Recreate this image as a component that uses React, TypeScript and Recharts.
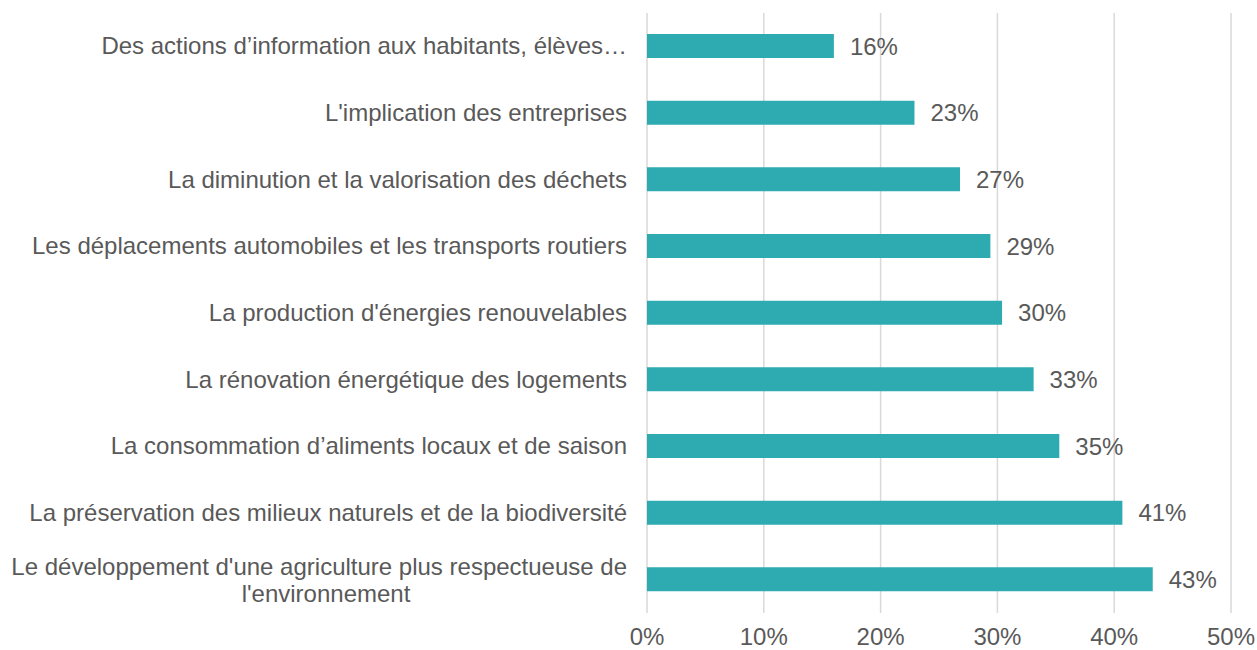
import React from 'react';
import { BarChart, Bar, XAxis, YAxis, CartesianGrid, LabelList } from 'recharts';

const categories = [
  'Des actions d\u2019information aux habitants, élèves…',
  "L'implication des entreprises",
  'La diminution et la valorisation des déchets',
  'Les déplacements automobiles et les transports routiers',
  "La production d'énergies renouvelables",
  'La rénovation énergétique des logements',
  'La consommation d\u2019aliments locaux et de saison',
  'La préservation des milieux naturels et de la biodiversité',
  "Le développement d'une agriculture plus respectueuse de\nl'environnement",
];

const values = [16.0, 22.9, 26.8, 29.4, 30.4, 33.1, 35.3, 40.7, 43.3];

const xTicks = [0, 10, 20, 30, 40, 50];

const data = categories.map((name, i) => ({ name, value: values[i] }));

const textColor = '#595959';
const font = 'Arial, "Liberation Sans", sans-serif';
const fs = 24;

const CategoryTick = (props: any) => {
  const { x, y, payload } = props;
  const lines = String(payload.value).split('\n');
  if (lines.length === 1) {
    return (
      <text x={x} y={y} dy={8} textAnchor="end" fill={textColor} fontSize={fs} fontFamily={font}>
        {lines[0]}
      </text>
    );
  }
  // wrapped label: centred second line under a right-aligned first line
  return (
    <g>
      <text x={x} y={y} dy={-5} textAnchor="end" fill={textColor} fontSize={fs} fontFamily={font}>
        {lines[0]}
      </text>
      <text x={x - 301} y={y} dy={22} textAnchor="middle" fill={textColor} fontSize={fs} fontFamily={font}>
        {lines[1]}
      </text>
    </g>
  );
};

export default function App() {
  return (
    <div style={{ position: 'absolute', left: 0, top: 0, background: '#fff' }}>
      <BarChart
        width={1257}
        height={650}
        data={data}
        layout="vertical"
        margin={{ top: 13, right: 26, bottom: 0, left: 0 }}
        barCategoryGap={0}
      >
        <CartesianGrid horizontal={false} stroke="#d9d9d9" strokeWidth={1.5} />
        <XAxis
          type="number"
          domain={[0, 50]}
          ticks={xTicks}
          tickFormatter={(v: number) => `${v}%`}
          axisLine={false}
          tickLine={false}
          height={37}
          tick={{ fill: textColor, fontSize: fs, fontFamily: font, dy: 7 }}
        />
        <YAxis
          type="category"
          dataKey="name"
          width={647}
          axisLine={false}
          tickLine={false}
          tickMargin={14}
          interval={0}
          tick={<CategoryTick />}
        />
        <Bar dataKey="value" fill="#2EAAB1" barSize={24} isAnimationActive={false}>
          <LabelList
            dataKey="value"
            position="right"
            offset={16}
            formatter={(v: any) => `${Math.round(Number(v))}%`}
            style={{ fill: textColor, fontSize: fs, fontFamily: font }}
          />
        </Bar>
      </BarChart>
    </div>
  );
}
